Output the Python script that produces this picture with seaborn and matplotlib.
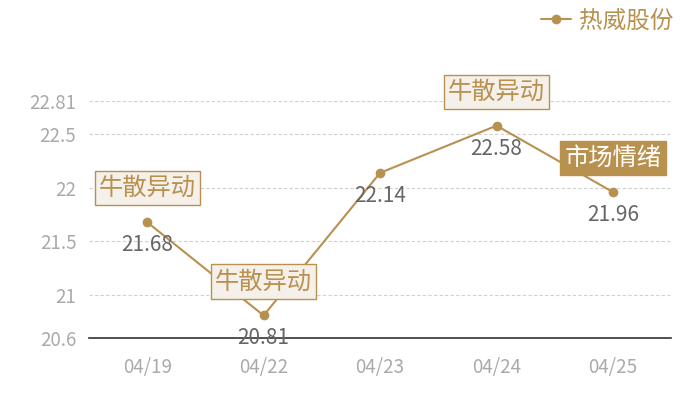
import matplotlib
matplotlib.use("Agg")
import matplotlib.pyplot as plt
import seaborn as sns
import pandas as pd

dates = ["04/19", "04/22", "04/23", "04/24", "04/25"]
prices = [21.68, 20.81, 22.14, 22.58, 21.96]
events = ["牛散异动", "牛散异动", "", "牛散异动", "市场情绪"]
series_name = "热威股份"
y_ticks = [20.6, 21, 21.5, 22, 22.5, 22.81]
y_tick_labels = ["20.6", "21", "21.5", "22", "22.5", "22.81"]

GOLD = "#B8914F"

sns.set_theme(style="white")
plt.rcParams["font.family"] = ["Noto Sans CJK SC", "DejaVu Sans"]

df = pd.DataFrame({"date": dates, "price": prices, "series": series_name})

fig = plt.figure(figsize=(7, 4), dpi=100)
ax = fig.add_axes([0.127, 0.155, 0.832, 0.5925])

sns.lineplot(data=df, x="date", y="price", hue="series", palette=[GOLD],
             marker="o", markersize=7, markeredgewidth=0, linewidth=1.5,
             ax=ax, sort=False, zorder=3)

ax.set_xlim(-0.5, len(dates) - 0.5)
ax.set_ylim(20.6, 22.81)
ax.set_yticks(y_ticks)
ax.set_yticklabels(y_tick_labels)
ax.set_xlabel("")
ax.set_ylabel("")

for y in y_ticks[1:]:
    ax.axhline(y, color="#D0D0D0", linestyle=(0, (3, 2)), linewidth=0.8, zorder=1)

for s in ["top", "right", "left"]:
    ax.spines[s].set_visible(False)
ax.spines["bottom"].set_color("#333333")
ax.spines["bottom"].set_linewidth(1.2)
ax.tick_params(axis="both", length=0, labelsize=13.5, labelcolor="#AAAAAA")
ax.tick_params(axis="x", pad=14)
ax.tick_params(axis="y", pad=9)

for i, (d, p, ev) in enumerate(zip(dates, prices, events)):
    ax.annotate(f"{p:.2f}", xy=(i, p), xytext=(0, -16.5), textcoords="offset points",
                ha="center", va="center", fontsize=15, color="#666666", zorder=5,
                annotation_clip=False)
    if ev:
        filled = ev == "市场情绪"
        ax.annotate(ev, xy=(i, p), xytext=(0, 24.5), textcoords="offset points",
                    ha="center", va="center", fontsize=17.5,
                    color="white" if filled else GOLD, zorder=6,
                    annotation_clip=False,
                    bbox=dict(boxstyle="square,pad=0.17",
                              fc=GOLD if filled else "#F5F0EA",
                              ec=GOLD, lw=1.0))

leg = ax.legend(loc="upper right", bbox_to_anchor=(0.975, 1.0), bbox_transform=fig.transFigure,
                frameon=False, fontsize=17, handlelength=1.3, handletextpad=0.3,
                borderaxespad=0.0)
for t in leg.get_texts():
    t.set_color(GOLD)

fig.savefig("out.png", dpi=100)
